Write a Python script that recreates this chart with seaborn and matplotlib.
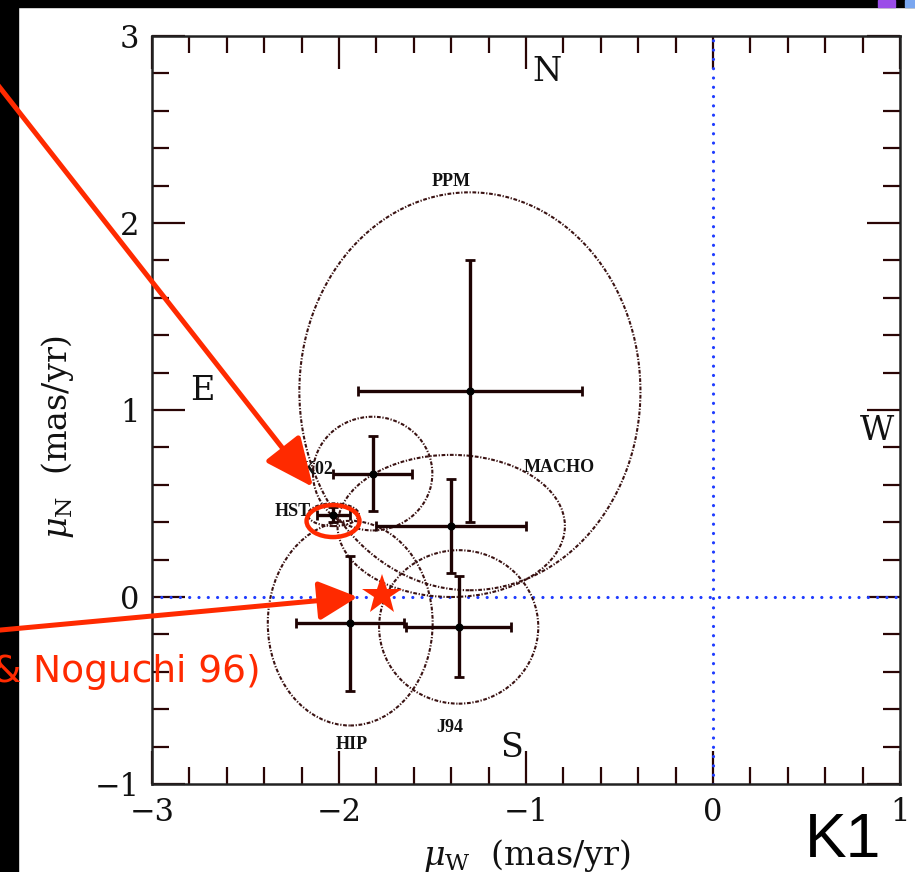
import numpy as np
import pandas as pd
import matplotlib
matplotlib.use("Agg")
import matplotlib.pyplot as plt
import seaborn as sns
from matplotlib.patches import Ellipse, Rectangle
from matplotlib.ticker import MultipleLocator

# Proper-motion measurements (mas/yr) of the cluster, one per catalogue
catalogs = ["PPM", "K02", "MACHO", "HST", "HIP", "J94"]
mu_w = [-1.30, -1.82, -1.40, -2.03, -1.94, -1.36]
mu_n = [1.10, 0.66, 0.38, 0.44, -0.14, -0.16]
err_w = [0.60, 0.21, 0.40, 0.09, 0.29, 0.28]
err_n = [0.70, 0.20, 0.25, 0.04, 0.36, 0.27]
ellipse_scale = 1.52  # joint 68% region: sqrt(2.3) sigma

# catalogue label anchors (data coords)
label_w = [-1.40, -2.03, -0.82, -2.15, -1.93, -1.41]
label_n = [2.22, 0.68, 0.69, 0.455, -0.79, -0.70]
label_ha = ["center", "right", "center", "right", "center", "center"]

# predicted motion
star_w, star_n = -1.77, 0.01
citation = "& Noguchi 96)"

x_ticks = [-3, -2, -1, 0, 1]
y_ticks = [-1, 0, 1, 2, 3]

df = pd.DataFrame({"catalog": catalogs, "mu_w": mu_w, "mu_n": mu_n,
                   "err_w": err_w, "err_n": err_n})

sns.set_theme(style="white")
plt.rcParams["font.family"] = ["DejaVu Serif"]
plt.rcParams["mathtext.fontset"] = "dejavuserif"

W, H = 915, 872
fig = plt.figure(figsize=(W / 100, H / 100), dpi=100)
fig.patch.set_facecolor("white")

# frame strips along the top and left edges (behind everything else)
for rect, col in [((0, 1 - 7 / H, 1, 7 / H), "black"),
                  ((0, 0, 18 / W, 1), "black"),
                  ((878 / W, 1 - 7 / H, 17 / W, 7 / H), "#9b4de8"),
                  ((905 / W, 1 - 7 / H, 10 / W, 7 / H), "#7aa7f0")]:
    fig.patches.append(Rectangle(rect[:2], rect[2], rect[3],
                                 transform=fig.transFigure, color=col,
                                 zorder=-10))

ax = fig.add_axes([152 / W, 1 - 784 / H, 748 / W, 748 / H])
ax.set_facecolor("none")

ink = "#1e0303"
ax.set_xlim(-3, 1)
ax.set_ylim(-1, 3)

# reference lines through zero
blue = "#1f3cff"
ax.plot([0, 0], [-1, 3], color=blue, lw=2.3, linestyle=(0, (0.01, 2.9)),
        dash_capstyle="round", zorder=2)
ax.plot([-3, 1], [0, 0], color=blue, lw=2.3, linestyle=(0, (0.01, 2.9)),
        dash_capstyle="round", zorder=2)

# confidence ellipses
for _, r in df.iterrows():
    e = Ellipse((r.mu_w, r.mu_n), 2 * ellipse_scale * r.err_w,
                2 * ellipse_scale * r.err_n, fill=False, edgecolor="#3a1212",
                lw=1.5, linestyle=(0, (1.8, 0.8, 0.6, 0.8)), zorder=3)
    ax.add_patch(e)

# error bars with centre points
ax.errorbar(df.mu_w, df.mu_n, xerr=df.err_w, yerr=df.err_n, fmt="none",
            ecolor=ink, elinewidth=2.4, capsize=3.5, capthick=2.0, zorder=4)
sns.scatterplot(data=df, x="mu_w", y="mu_n", color="black", s=34,
                edgecolor="black", linewidth=0, ax=ax, zorder=5, legend=False)

for name, lx, ly, ha in zip(catalogs, label_w, label_n, label_ha):
    ax.text(lx, ly, name, ha=ha, va="center", fontsize=13,
            family="Liberation Serif", fontweight="bold", color="#111", zorder=6)

# compass letters
for letter, lx, ly in [("N", -0.89, 2.81), ("E", -2.73, 1.10),
                       ("W", 0.877, 0.89), ("S", -1.075, -0.805)]:
    ax.text(lx, ly, letter, ha="center", va="center", fontsize=24, color="#111")

# axes styling
for s in ax.spines.values():
    s.set_color("#222")
    s.set_linewidth(1.8)
ax.set_xticks(x_ticks)
ax.set_yticks(y_ticks)
ax.set_xticklabels([str(t).replace("-", "\u2212") for t in x_ticks])
ax.set_yticklabels([str(t).replace("-", "\u2212") for t in y_ticks])
ax.xaxis.set_minor_locator(MultipleLocator(0.2))
ax.yaxis.set_minor_locator(MultipleLocator(0.2))
ax.tick_params(which="both", direction="in", bottom=True, left=True,
               top=True, right=True, color="#2a0505", width=1.6,
               labelsize=22, labelcolor="#111")
ax.tick_params(which="major", length=24, pad=9)
ax.tick_params(which="minor", length=12)
ax.set_xlabel("")
ax.set_ylabel("")
fig.text(527 / W, 1 - 855 / H, r"$\mu_{\rm W}$  (mas/yr)", ha="center",
         va="center", fontsize=24, color="#111")
fig.text(58 / W, 1 - 437 / H, r"$\mu_{\rm N}$  (mas/yr)", ha="center",
         va="center", rotation=90, fontsize=24, color="#111")

# highlighted measurement, predicted motion and pointers
red = "#ff2a00"
ax.add_patch(Ellipse((-2.032, 0.406), 0.283, 0.171, fill=False,
                     edgecolor=red, lw=3.2, zorder=7))
ax.plot([star_w], [star_n], marker="*", markersize=30, color=red,
        markeredgewidth=0, zorder=8, clip_on=False)
ax.annotate("", xy=(-2.139, 0.588), xycoords="data",
            xytext=(-10, H - 75), textcoords="figure pixels",
            arrowprops=dict(arrowstyle="-|>,head_length=1.0,head_width=0.45",
                            mutation_scale=30, color=red, lw=3.6,
                            shrinkA=0, shrinkB=0),
            annotation_clip=False, zorder=9)
ax.annotate("", xy=(-1.90, 0.0), xycoords="data",
            xytext=(-10, H - 631), textcoords="figure pixels",
            arrowprops=dict(arrowstyle="-|>,head_length=0.8,head_width=0.4",
                            mutation_scale=30, color=red, lw=3.6,
                            shrinkA=0, shrinkB=0),
            annotation_clip=False, zorder=9)
fig.text(261 / W, 1 - 682 / H, citation, ha="right", va="baseline",
         fontsize=27, color=red, family="DejaVu Sans")

fig.text(843 / W, 1 - 840 / H, "K1", ha="center", va="center", fontsize=45,
         color="black", family="Liberation Sans")

fig.savefig("out.png", dpi=100, facecolor="white")
